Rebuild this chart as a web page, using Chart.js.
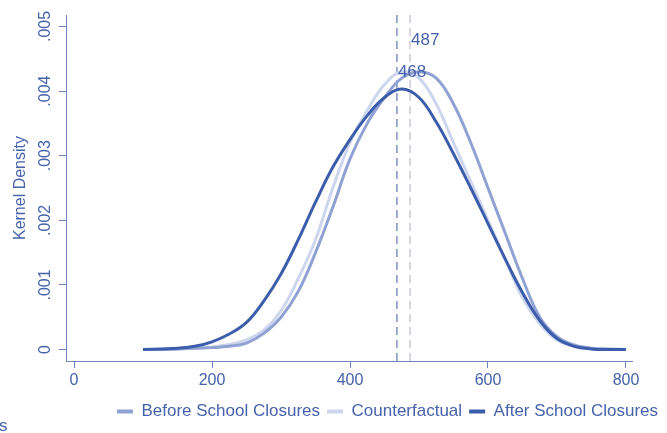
<!DOCTYPE html>
<html><head><meta charset="utf-8">
<script src="https://cdn.jsdelivr.net/npm/chart.js@4/dist/chart.umd.min.js"></script>
<style>html,body{margin:0;padding:0;background:#fff}#wrap{width:667px;height:433px}</style>
</head><body><div id="wrap"><canvas id="c" width="667" height="433"></canvas></div>
<script>
// ---- data ----
const scores = [100,125,150,175,200,225,250,275,300,325,350,375,400,425,450,475,500,525,550,575,600,625,650,675,700,725,750,775,800];
const beforeDensity = [0,0,0.00001,0.00002,0.00003,0.00005,0.0001,0.00025,0.0005,0.0009,0.0015,0.0022,0.00295,0.0035,0.0039,0.0042,0.0043,0.0042,0.0038,0.0032,0.0025,0.0018,0.0011,0.0005,0.0002,0.00007,0.00002,0.00001,0];
const counterfactualDensity = [0,0,0.00001,0.00002,0.00004,0.00008,0.00015,0.0003,0.0006,0.0011,0.0017,0.0025,0.0032,0.0037,0.0041,0.0043,0.0042,0.0038,0.0032,0.0026,0.0020,0.0014,0.0008,0.0004,0.00015,0.00005,0.00001,0,0];
const afterDensity = [0,0.00001,0.00002,0.00005,0.00012,0.00024,0.00042,0.00075,0.00117,0.0017,0.00228,0.00282,0.00325,0.00362,0.0039,0.00403,0.0039,0.00352,0.00303,0.0025,0.00195,0.0014,0.00088,0.00045,0.00017,0.00005,0.00001,0,0];
const seriesNames = ['Before School Closures','Counterfactual','After School Closures'];
const meanValues = [468, 487];
const meanLabels = ['468', '487'];
const xTickValues = [0,200,400,600,800];
const xTickLabels = ['0','200','400','600','800'];
const yTickValues = [0,0.001,0.002,0.003,0.004,0.005];
const yTickLabels = ['0','.001','.002','.003','.004','.005'];
const yTitle = 'Kernel Density';

// ---- style ----
const X_MIN = -11.6, X_MAX = 808.7, Y_MIN = -0.000177, Y_MAX = 0.005177;
const cBefore = '#8fa2d3', cCounter = '#cdd6ee', cAfter = '#3c5dab';
const cText = '#4662ab', cAxis = '#6f84bb';
const cMean = ['#7f92c2', '#cfc8da'];
const meanLabelY = [0.00429, 0.00478];
const FONT = '"Liberation Sans", Arial, sans-serif';

const toXY = arr => scores.map((x, i) => ({x, y: arr[i]}));
const curve = (label, arr, color, order) => ({label, data: toXY(arr), borderColor: color, backgroundColor: color,
  borderWidth: 3, pointRadius: 0, tension: 0.4, fill: false, order});
const meanLine = (i) => ({label: 'mean' + i, data: [{x: meanValues[i], y: Y_MIN}, {x: meanValues[i], y: Y_MAX}],
  borderColor: cMean[i], borderWidth: 1.5, borderDash: [8, 5], pointRadius: 0, fill: false, order: 5 + i, isMean: true});

const labelPlugin = {
  id: 'meanLabels',
  afterDatasetsDraw(chart) {
    const {ctx, scales: {x, y}} = chart;
    ctx.save();
    ctx.fillStyle = cText;
    ctx.font = '17px ' + FONT;
    ctx.textBaseline = 'middle';
    ctx.textAlign = 'left';
    meanValues.forEach((v, i) => {
      ctx.fillText(meanLabels[i], x.getPixelForValue(v) + 1, y.getPixelForValue(meanLabelY[i]));
    });
    ctx.fillText('s', -1, 426);
    ctx.restore();
  }
};

new Chart(document.getElementById('c'), {
  type: 'line',
  data: {datasets: [
    meanLine(0), meanLine(1),
    curve(seriesNames[0], beforeDensity, cBefore, 2),
    curve(seriesNames[1], counterfactualDensity, cCounter, 3),
    curve(seriesNames[2], afterDensity, cAfter, 1)
  ]},
  options: {
    responsive: false, animation: false, devicePixelRatio: 1,
    layout: {padding: {top: 15, right: 2, bottom: 3, left: 0}},
    plugins: {
      tooltip: {enabled: false},
      legend: {
        position: 'bottom', align: 'end',
        labels: {
          font: {size: 17, family: FONT},
          color: cText, boxWidth: 16, boxHeight: 4, padding: 7,
          filter: (item, data) => !data.datasets[item.datasetIndex].isMean,
          generateLabels(chart) {
            return chart.data.datasets.map((ds, i) => ({text: ds.label, fillStyle: ds.borderColor,
              strokeStyle: ds.borderColor, lineWidth: 0, fontColor: cText, datasetIndex: i, hidden: false}));
          }
        }
      }
    },
    scales: {
      x: {
        type: 'linear', min: X_MIN, max: X_MAX,
        afterBuildTicks: s => { s.ticks = xTickValues.map(v => ({value: v})); },
        afterFit: s => { s.height = 35; },
        ticks: {color: cText, font: {size: 16, family: FONT}, padding: 3,
          maxRotation: 0, callback: (v, i) => xTickLabels[i]},
        grid: {display: true, drawOnChartArea: false, drawTicks: true, tickLength: 7, color: cAxis, lineWidth: 1},
        border: {display: true, color: cAxis, width: 1}
      },
      y: {
        type: 'linear', min: Y_MIN, max: Y_MAX,
        afterBuildTicks: s => { s.ticks = yTickValues.map(v => ({value: v})); },
        afterFit: s => { s.width = 66; },
        ticks: {color: cText, font: {size: 16, family: FONT}, padding: -2,
          minRotation: 90, maxRotation: 90, crossAlign: 'center', callback: (v, i) => yTickLabels[i]},
        title: {display: true, text: yTitle, color: cText, font: {size: 16, family: FONT},
          padding: {top: 11, bottom: 0}},
        grid: {display: true, drawOnChartArea: false, drawTicks: true, tickLength: 7, color: cAxis, lineWidth: 1},
        border: {display: true, color: cAxis, width: 1}
      },
      y2: {
        position: 'right', display: true, min: 0, max: 1,
        afterFit: s => { s.width = 33; },
        ticks: {display: false}, grid: {display: false}, border: {display: false}
      }
    }
  },
  plugins: [labelPlugin]
});
</script>
</body></html>
